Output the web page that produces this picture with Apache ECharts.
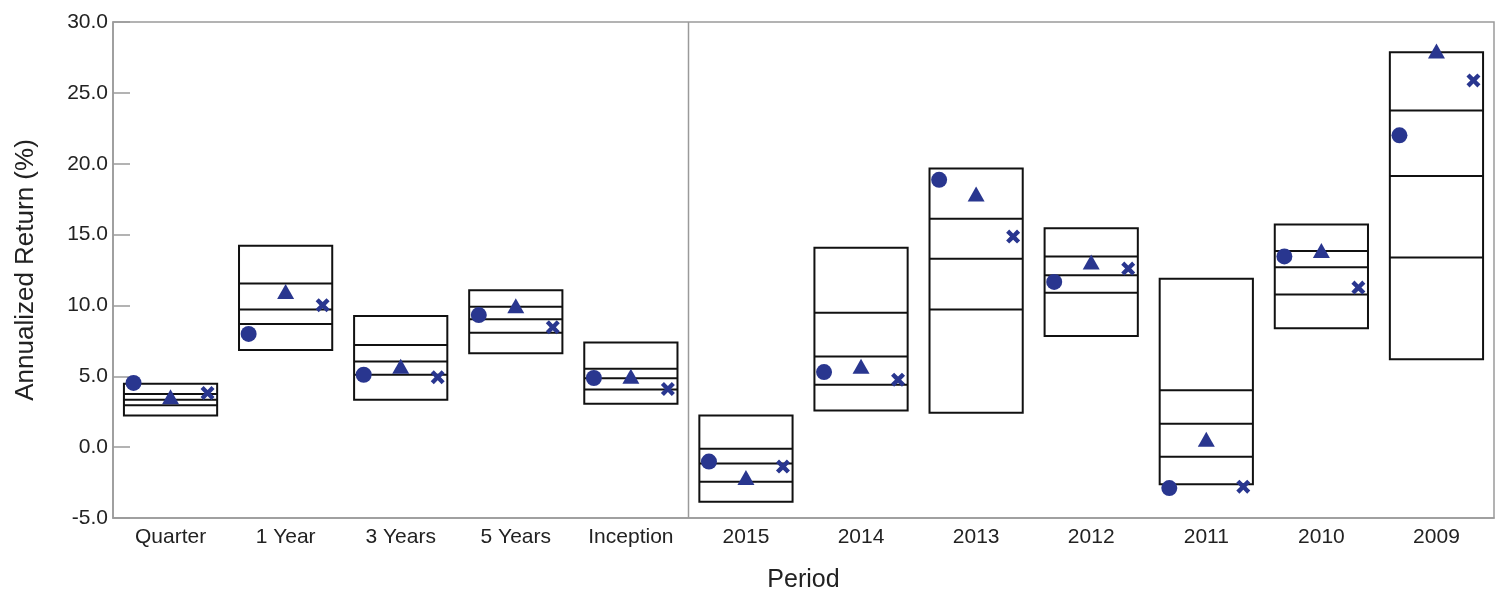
<!DOCTYPE html>
<html>
<head>
<meta charset="utf-8">
<script src="https://cdn.jsdelivr.net/npm/echarts@6/dist/echarts.min.js"></script>
<style>
html,body{margin:0;padding:0;background:#fff;}
#chart{width:1497px;height:598px;}
</style>
</head>
<body>
<div id="chart"></div>
<script>
var categories = ['Quarter','1 Year','3 Years','5 Years','Inception','2015','2014','2013','2012','2011','2010','2009'];
var yTicks = [-5, 0, 5, 10, 15, 20, 25, 30];
var dividerBefore = 5; // vertical rule between 'Inception' and '2015'

// Box edges (top to bottom)
var boxTop    = [4.48, 14.21, 9.25, 11.07, 7.38,  2.23, 14.07, 19.66, 15.45, 11.89, 15.71, 27.87];
var boxUpper  = [3.75, 11.54, 7.21,  9.91, 5.53, -0.11,  9.49, 16.11, 13.46,  4.01, 13.84, 23.75];
var boxMedian = [3.35,  9.72, 6.05,  9.02, 4.86, -1.16,  6.40, 13.30, 12.13,  1.65, 12.69, 19.14];
var boxLower  = [2.95,  8.69, 5.11,  8.08, 4.06, -2.44,  4.41,  9.72, 10.89, -0.67, 10.77, 13.39];
var boxBottom = [2.23,  6.86, 3.35,  6.63, 3.07, -3.85,  2.58,  2.42,  7.85, -2.61,  8.39,  6.21];

// Markers
var circleVals   = [4.53,  7.99, 5.11, 9.32, 4.88, -1.02, 5.30, 18.86, 11.66, -2.89, 13.46, 22.00];
var triangleVals = [3.56, 10.98, 5.70, 9.98, 5.00, -2.14, 5.70, 17.86, 13.07,  0.55, 13.88, 27.96];
var crossVals    = [3.82, 10.02, 4.93, 8.46, 4.10, -1.37, 4.76, 14.86, 12.60, -2.79, 11.26, 25.88];

var markerColor = '#29368f';
var axisGray = '#9a9a9a';
var font = '"Liberation Sans",Arial,sans-serif';

var boxData = categories.map(function (c, i) {
  return [i, boxTop[i], boxUpper[i], boxMedian[i], boxLower[i], boxBottom[i]];
});

var crossPath = 'path://M0,2.2 L2.2,0 L5,2.8 L7.8,0 L10,2.2 L7.2,5 L10,7.8 L7.8,10 L5,7.2 L2.2,10 L0,7.8 L2.8,5 Z';

var chart = echarts.init(document.getElementById('chart'), null, {renderer: 'canvas'});
chart.setOption({
  animation: false,
  backgroundColor: '#fff',
  grid: {left: 113, right: 3, top: 22, bottom: 77, show: true, borderColor: axisGray, borderWidth: 1.5, backgroundColor: 'transparent'},
  xAxis: {
    type: 'category',
    data: categories,
    boundaryGap: true,
    name: 'Period',
    nameLocation: 'middle',
    nameGap: 50,
    nameTextStyle: {fontFamily: font, fontSize: 25, color: '#222'},
    axisLine: {show: true, onZero: false, lineStyle: {color: axisGray, width: 1.5}},
    axisTick: {show: false},
    axisLabel: {fontFamily: font, fontSize: 21, color: '#222', margin: 9, interval: 0},
    splitLine: {show: false}
  },
  yAxis: {
    type: 'value',
    min: yTicks[0],
    max: yTicks[yTicks.length - 1],
    interval: 5,
    name: 'Annualized Return (%)',
    nameLocation: 'middle',
    nameGap: 74,
    nameTextStyle: {fontFamily: font, fontSize: 26, color: '#222'},
    axisLine: {show: true, lineStyle: {color: axisGray, width: 1.5}},
    axisTick: {show: true, inside: true, length: 17, lineStyle: {color: axisGray, width: 1.5}},
    axisLabel: {fontFamily: font, fontSize: 21, color: '#222', margin: 5, formatter: function (v) { return v.toFixed(1); }},
    splitLine: {show: false}
  },
  series: [
    {
      type: 'custom',
      data: boxData,
      encode: {x: 0, y: [1, 2, 3, 4, 5]},
      z: 2,
      renderItem: function (params, api) {
        var idx = api.value(0);
        var band = api.size([1, 0])[0];
        var w = band * 0.81;
        var pTop = api.coord([idx, api.value(1)]);
        var p1 = api.coord([idx, api.value(2)]);
        var p2 = api.coord([idx, api.value(3)]);
        var p3 = api.coord([idx, api.value(4)]);
        var pBot = api.coord([idx, api.value(5)]);
        var x0 = pTop[0] - w / 2, x1 = pTop[0] + w / 2;
        var st = {stroke: '#111', lineWidth: 2, fill: null};
        var children = [
          {type: 'rect', shape: {x: x0, y: pTop[1], width: w, height: pBot[1] - pTop[1]}, style: {stroke: '#111', lineWidth: 2, fill: 'rgba(0,0,0,0)'}},
          {type: 'line', shape: {x1: x0, y1: p1[1], x2: x1, y2: p1[1]}, style: st},
          {type: 'line', shape: {x1: x0, y1: p2[1], x2: x1, y2: p2[1]}, style: st},
          {type: 'line', shape: {x1: x0, y1: p3[1], x2: x1, y2: p3[1]}, style: st}
        ];
        if (idx === dividerBefore) {
          var cs = params.coordSys;
          var xd = Math.round(pTop[0] - band / 2) + 0.5;
          children.push({type: 'line', shape: {x1: xd, y1: cs.y, x2: xd, y2: cs.y + cs.height}, style: {stroke: axisGray, lineWidth: 1.5}});
        }
        return {type: 'group', children: children};
      }
    },
    {
      type: 'scatter',
      data: circleVals,
      symbol: 'circle',
      symbolSize: 16,
      symbolOffset: [-37, 0],
      itemStyle: {color: markerColor, opacity: 1},
      z: 5
    },
    {
      type: 'scatter',
      data: triangleVals,
      symbol: 'triangle',
      symbolSize: [17, 15],
      itemStyle: {color: markerColor, opacity: 1},
      z: 5
    },
    {
      type: 'scatter',
      data: crossVals,
      symbol: crossPath,
      symbolSize: 14,
      symbolOffset: [37, 0],
      itemStyle: {color: markerColor, opacity: 1},
      z: 5
    }
  ]
});
</script>
</body>
</html>
